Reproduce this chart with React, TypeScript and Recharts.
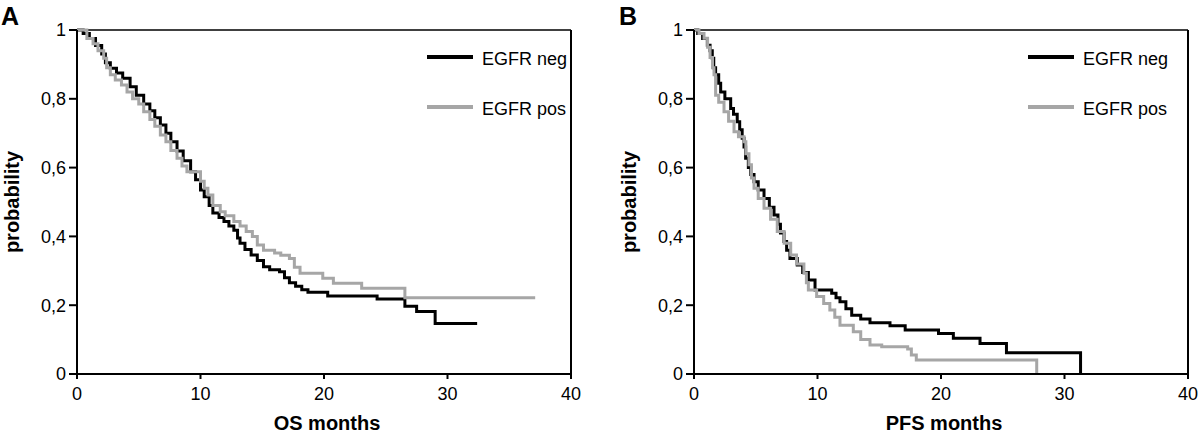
import React from 'react';
import { LineChart, Line, XAxis, YAxis, Legend, ReferenceLine } from 'recharts';

// [months, probability]
const osNeg: [number, number][] = [
  [0, 1], [0.5, 0.99], [1.0, 0.975], [1.5, 0.955], [2.0, 0.93], [2.3, 0.905], [2.7, 0.889],
  [3.2, 0.875], [3.7, 0.86], [4.3, 0.835], [4.8, 0.81], [5.4, 0.785], [5.9, 0.765], [6.3, 0.745],
  [6.75, 0.724], [7.2, 0.7], [7.6, 0.675], [8.1, 0.648], [8.6, 0.62], [9.2, 0.588], [9.6, 0.565],
  [10.0, 0.535], [10.3, 0.515], [10.7, 0.49], [11.0, 0.468], [11.5, 0.455], [11.9, 0.443],
  [12.3, 0.43], [12.7, 0.418], [13.0, 0.395], [13.2, 0.38], [13.6, 0.362], [14.1, 0.346],
  [14.6, 0.33], [15.1, 0.312], [15.6, 0.303], [16.4, 0.297], [16.8, 0.28], [17.2, 0.265],
  [17.7, 0.255], [18.2, 0.245], [18.7, 0.238], [20.3, 0.227], [24.3, 0.218], [26.55, 0.197],
  [27.5, 0.182], [29.0, 0.147], [32.4, 0.147],
];

const osPos: [number, number][] = [
  [0, 1], [0.8, 0.975], [1.3, 0.96], [1.7, 0.94], [2.16, 0.918], [2.4, 0.89], [2.7, 0.87],
  [3.1, 0.855], [3.6, 0.84], [4.05, 0.82], [4.5, 0.8], [5.0, 0.785], [5.4, 0.762], [5.9, 0.74],
  [6.3, 0.72], [6.75, 0.695], [7.2, 0.675], [7.6, 0.65], [8.1, 0.627], [8.5, 0.605], [8.9, 0.588],
  [10.0, 0.56], [10.3, 0.54], [10.6, 0.52], [11.0, 0.49], [11.6, 0.472], [12.0, 0.46],
  [12.7, 0.443], [13.2, 0.43], [13.7, 0.414], [14.2, 0.4], [14.6, 0.375], [15.1, 0.36],
  [16.0, 0.352], [16.5, 0.345], [17.2, 0.336], [17.6, 0.31], [18.06, 0.293], [19.9, 0.278],
  [20.76, 0.264], [23.05, 0.249], [26.55, 0.222], [37.1, 0.222],
];

const pfsNeg: [number, number][] = [
  [0, 1], [0.3, 0.99], [0.7, 0.975], [1.08, 0.956], [1.3, 0.94], [1.48, 0.918], [1.6, 0.89],
  [1.75, 0.87], [2.0, 0.845], [2.16, 0.82], [2.5, 0.8], [2.97, 0.772], [3.2, 0.755], [3.5, 0.733],
  [3.7, 0.71], [3.9, 0.685], [4.05, 0.66], [4.18, 0.627], [4.4, 0.6], [4.6, 0.58], [4.86, 0.559],
  [5.2, 0.535], [5.67, 0.51], [6.1, 0.485], [6.48, 0.462], [6.8, 0.435], [7.0, 0.41],
  [7.29, 0.385], [7.5, 0.36], [7.77, 0.336], [8.36, 0.317], [8.8, 0.295], [9.26, 0.273],
  [9.8, 0.244], [11.15, 0.235], [11.5, 0.222], [11.82, 0.21], [12.3, 0.19], [12.77, 0.171],
  [13.5, 0.16], [14.25, 0.149], [15.87, 0.14], [17.1, 0.128], [19.8, 0.118], [21.0, 0.104],
  [23.16, 0.089], [25.3, 0.062], [31.3, 0],
];

const pfsPos: [number, number][] = [
  [0, 1], [0.4, 0.99], [0.81, 0.976], [1.1, 0.95], [1.3, 0.92], [1.5, 0.89], [1.62, 0.87],
  [1.75, 0.81], [2.0, 0.79], [2.43, 0.762], [2.8, 0.735], [3.24, 0.704], [3.6, 0.69],
  [4.05, 0.675], [4.2, 0.64], [4.45, 0.608], [4.65, 0.57], [4.86, 0.54], [5.2, 0.51],
  [5.67, 0.482], [6.2, 0.45], [6.74, 0.414], [7.3, 0.38], [7.83, 0.346], [8.3, 0.32],
  [8.9, 0.293], [9.1, 0.265], [9.26, 0.244], [9.93, 0.225], [10.5, 0.205], [11.0, 0.186],
  [11.4, 0.165], [11.82, 0.142], [12.9, 0.123], [13.5, 0.1], [14.25, 0.084], [15.2, 0.079],
  [17.3, 0.073], [17.6, 0.055], [18.0, 0.041], [27.75, 0],
];

const xTicks = [0, 10, 20, 30, 40];
const yTicks = [0, 0.2, 0.4, 0.6, 0.8, 1];
const seriesNames = ['EGFR neg', 'EGFR pos'];
const seriesColors = ['#000000', '#a6a6a6'];

const FONT = '"Liberation Sans", Arial, Helvetica, sans-serif';

const toPts = (arr: [number, number][]) => arr.map(([t, p]) => ({ t, p }));

const fmtY = (v: number) => String(Math.round(v * 10) / 10).replace('.', ',');

const LegendContent = (props: any) => {
  const payload = props.payload || [];
  return (
    <div style={{ fontFamily: FONT, fontSize: 18, color: '#000' }}>
      {payload.map((e: any, i: number) => (
        <div
          key={i}
          style={{ display: 'flex', alignItems: 'center', height: 18, marginBottom: i === 0 ? 32 : 0 }}
        >
          <svg width={46} height={18} style={{ display: 'block' }}>
            <line x1={0} x2={46} y1={9} y2={9} stroke={e.color} strokeWidth={4} />
          </svg>
          <span style={{ marginLeft: 9, lineHeight: '18px', paddingTop: 3, whiteSpace: 'nowrap' }}>{e.value}</span>
        </div>
      ))}
    </div>
  );
};

type PanelProps = {
  neg: [number, number][];
  pos: [number, number][];
  xTitle: string;
  marginLeft: number;
  marginRight: number;
  legendLeft: number;
};

const Panel = ({ neg, pos, xTitle, marginLeft, marginRight, legendLeft }: PanelProps) => {
  const yLabel = (p: any) => {
    const vb = p.viewBox || {};
    const x = vb.x + 2;
    const y = vb.y + vb.height / 2;
    return (
      <text
        x={x}
        y={y}
        transform={`rotate(-90, ${x}, ${y})`}
        textAnchor="middle"
        fontFamily={FONT}
        fontWeight="bold"
        fontSize={20}
        fill="#000"
      >
        probability
      </text>
    );
  };
  const xLabel = (p: any) => {
    const vb = p.viewBox || {};
    return (
      <text
        x={vb.x + vb.width / 2 + 3}
        y={vb.y + 56}
        textAnchor="middle"
        fontFamily={FONT}
        fontWeight="bold"
        fontSize={20}
        fill="#000"
      >
        {xTitle}
      </text>
    );
  };
  return (
    <LineChart
      width={600}
      height={435}
      margin={{ top: 30, right: marginRight, bottom: 31, left: marginLeft }}
      style={{ fontFamily: FONT }}
    >
      <XAxis
        type="number"
        dataKey="t"
        domain={[0, 40]}
        ticks={xTicks}
        allowDataOverflow
        height={30}
        tickSize={5}
        tickMargin={8}
        tick={{ fill: '#000', fontSize: 18, fontFamily: FONT }}
        axisLine={{ stroke: '#000', strokeWidth: 2 }}
        tickLine={{ stroke: '#000', strokeWidth: 2 }}
        label={xLabel}
      />
      <YAxis
        type="number"
        dataKey="p"
        domain={[0, 1]}
        ticks={yTicks}
        width={60}
        tickSize={8}
        tickMargin={3}
        tickFormatter={fmtY}
        tick={{ fill: '#000', fontSize: 18, fontFamily: FONT }}
        axisLine={{ stroke: '#000', strokeWidth: 2 }}
        tickLine={{ stroke: '#000', strokeWidth: 2 }}
        label={yLabel}
      />
      <ReferenceLine y={1} stroke="#000" strokeWidth={1.5} />
      <ReferenceLine x={40} stroke="#000" strokeWidth={2} />
      <Line
        data={toPts(neg)}
        dataKey="p"
        name={seriesNames[0]}
        type="stepAfter"
        stroke={seriesColors[0]}
        strokeWidth={3}
        dot={false}
        activeDot={false}
        isAnimationActive={false}
      />
      <Line
        data={toPts(pos)}
        dataKey="p"
        name={seriesNames[1]}
        type="stepAfter"
        stroke={seriesColors[1]}
        strokeWidth={3}
        dot={false}
        activeDot={false}
        isAnimationActive={false}
      />
      <Legend
        layout="vertical"
        align="center"
        verticalAlign="middle"
        content={LegendContent}
        wrapperStyle={{ position: 'absolute', left: legendLeft, top: 48, width: 'auto', height: 'auto' }}
      />
    </LineChart>
  );
};

export default function App() {
  return (
    <div style={{ position: 'absolute', left: 0, top: 0, width: 1200, height: 435, background: '#fff', fontFamily: FONT }}>
      <div style={{ position: 'absolute', left: 0, top: 0 }}>
        <Panel neg={osNeg} pos={osPos} xTitle="OS months" marginLeft={17} marginRight={29} legendLeft={427} />
      </div>
      <div style={{ position: 'absolute', left: 600, top: 0 }}>
        <Panel neg={pfsNeg} pos={pfsPos} xTitle="PFS months" marginLeft={34} marginRight={12} legendLeft={428} />
      </div>
      <div style={{ position: 'absolute', left: 1, top: 2, fontSize: 25, fontWeight: 'bold', lineHeight: '28px', color: '#000' }}>A</div>
      <div style={{ position: 'absolute', left: 619, top: 2, fontSize: 25, fontWeight: 'bold', lineHeight: '28px', color: '#000' }}>B</div>
    </div>
  );
}
